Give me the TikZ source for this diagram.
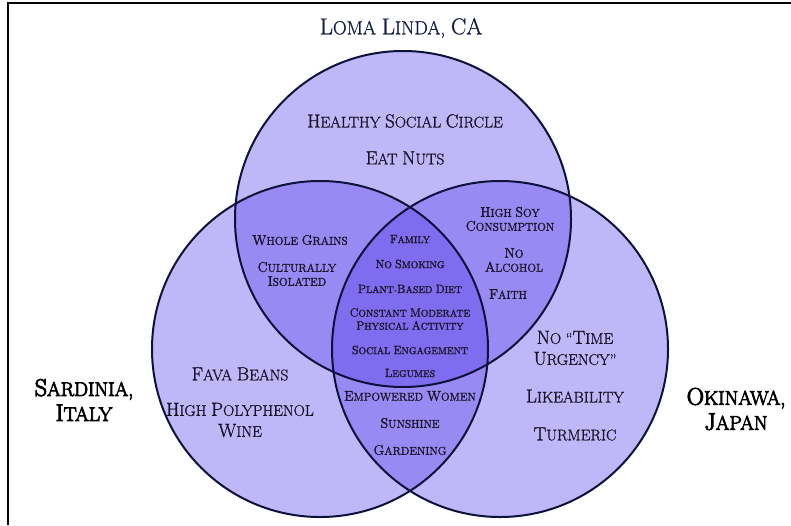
\documentclass[tikz,border=0pt]{standalone}
\usepackage{fontspec}
\newfontfamily\ucA{Latin Modern Roman}[FakeBold=1.6]
\newfontfamily\ucB{Latin Modern Roman}[FakeBold=4]
\newfontfamily\ucC{Latin Modern Roman}[FakeBold=1.2]
\newfontfamily\ucT{Latin Modern Roman}[FakeBold=0.8]
\newcommand\K[1]{{\fontsize{\kcap}{\kcap}\selectfont #1}}
\definecolor{cA}{RGB}{191,183,247}
\definecolor{cB}{RGB}{152,137,243}
\definecolor{cC}{RGB}{128,108,238}
\definecolor{edge}{RGB}{14,18,58}
\definecolor{txt}{RGB}{24,20,40}
\definecolor{ttl}{RGB}{22,26,72}
\begin{document}
\begin{tikzpicture}[x=1pt,y=-1pt,
  lab/.style={text=txt, align=center, inner sep=0pt},
  big/.style={lab, font=\def\kcap{19}\fontsize{15.5}{21}\ucC},
  mid/.style={lab, font=\def\kcap{14}\fontsize{11.4}{14}\ucA},
  sml/.style={lab, font=\def\kcap{12}\fontsize{9.8}{13}\ucA},
  place/.style={lab, font=\def\kcap{24}\fontsize{19.7}{25}\ucB, text=black},
  ttlst/.style={lab, font=\def\kcap{23}\fontsize{19}{23}\ucT, text=ttl},
  ring/.style={draw=edge, line width=2pt}]
\useasboundingbox (0,0) rectangle (791,525);
\fill[white] (0,0) rectangle (791,525);
\draw[line width=2.6pt, black] (8,525) -- (8,3) -- (791,3);
\coordinate (T) at (403,219);
\coordinate (L) at (320,349);
\coordinate (R) at (500,349);
\fill[cA] (T) circle[radius=168pt];
\fill[cA] (L) circle[radius=168pt];
\fill[cA] (R) circle[radius=168pt];
\begin{scope}
  \clip (T) circle[radius=168pt];
  \fill[cB] (L) circle[radius=168pt];
  \fill[cB] (R) circle[radius=168pt];
\end{scope}
\begin{scope}
  \clip (L) circle[radius=168pt];
  \fill[cB] (R) circle[radius=168pt];
\end{scope}
\begin{scope}
  \clip (T) circle[radius=168pt];
  \clip (L) circle[radius=168pt];
  \fill[cC] (R) circle[radius=168pt];
\end{scope}
\draw[ring] (T) circle[radius=168pt];
\draw[ring] (L) circle[radius=168pt];
\draw[ring] (R) circle[radius=168pt];
% titles
\node[ttlst] (tLoma) at (401,28) {\K{L}OMA \K{L}INDA, \K{CA}};
\node[place] (tSard) at (84,400) {\K{S}ARDINIA,\\\K{I}TALY};
\node[place] (tOki) at (736,409) {\K{O}KINAWA,\\\K{J}APAN};
% top only
\node[big] (hsc) at (405,121) {\K{H}EALTHY \K{S}OCIAL \K{C}IRCLE};
\node[big] (nuts) at (405,158) {\K{E}AT \K{N}UTS};
% top-left
\node[mid] (wg) at (300,240) {\K{W}HOLE \K{G}RAINS};
\node[mid] (ci) at (297,274) {\K{C}ULTURALLY\\\K{I}SOLATED};
% top-right
\node[mid] (soy) at (510,219) {\K{H}IGH \K{S}OY\\\K{C}ONSUMPTION};
\node[mid] (alc) at (514,260) {\K{N}O\\\K{A}LCOHOL};
\node[mid] (fai) at (508,294) {\K{F}AITH};
% center
\node[sml] (fam) at (410,239) {\K{F}AMILY};
\node[sml] (smk) at (410,264) {\K{N}O \K{S}MOKING};
\node[sml] (pbd) at (410,289) {\K{P}LANT-\K{B}ASED \K{D}IET};
\node[sml] (cma) at (410,319) {\K{C}ONSTANT \K{M}ODERATE\\\K{P}HYSICAL \K{A}CTIVITY};
\node[sml] (soc) at (410,350) {\K{S}OCIAL \K{E}NGAGEMENT};
\node[sml] (leg) at (410,373) {\K{L}EGUMES};
% bottom centre
\node[mid] (emp) at (410,396) {\K{E}MPOWERED \K{W}OMEN};
\node[mid] (sun) at (410,423) {\K{S}UNSHINE};
\node[mid] (gar) at (410,450) {\K{G}ARDENING};
% left only
\node[big] (fava) at (240,374) {\K{F}AVA \K{B}EANS};
\node[big] (poly) at (240,420) {\K{H}IGH \K{P}OLYPHENOL\\\K{W}INE};
% right only
\node[big] (tim) at (575,348) {\K{N}O “\K{T}IME\\\K{U}RGENCY”};
\node[big] (lik) at (575,396) {\K{L}IKEABILITY};
\node[big] (tur) at (575,434) {\K{T}URMERIC};
\end{tikzpicture}
\end{document}
